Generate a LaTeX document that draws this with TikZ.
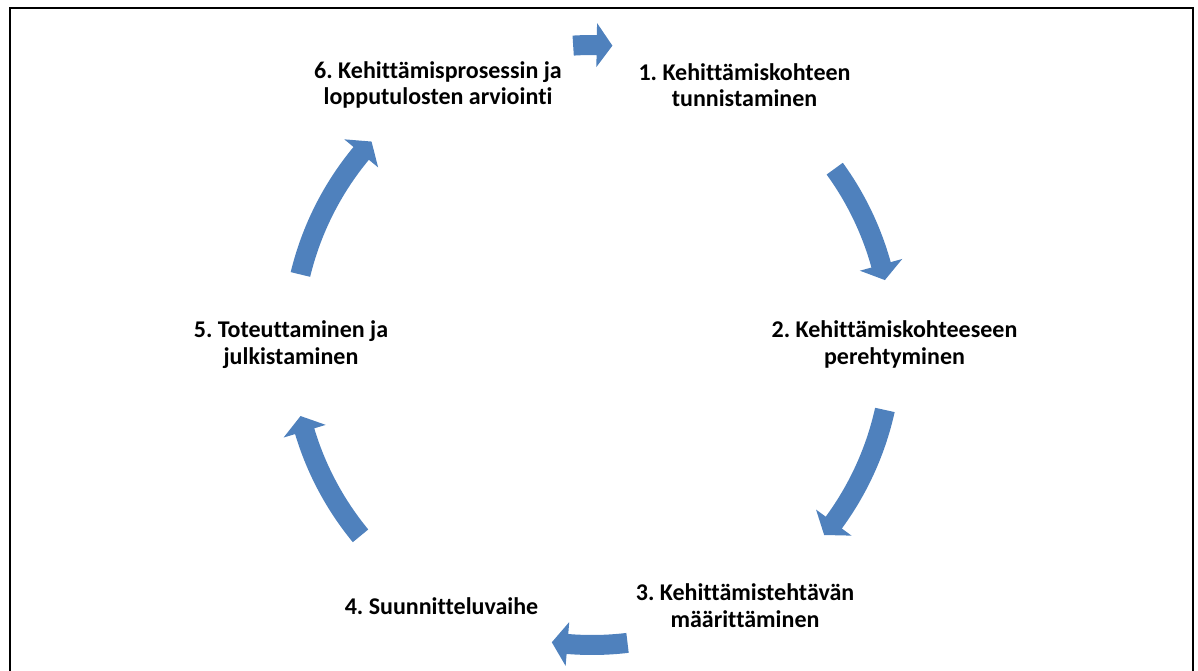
\documentclass[tikz,border=0pt]{standalone}
\usepackage{fontspec}
\setmainfont{Carlito}[Ligatures={NoCommon}]
\frenchspacing
\definecolor{arrowblue}{RGB}{79,129,189}
\tikzset{
  lbl/.style={align=center, font=\fontsize{24}{26.5}\selectfont\bfseries, inner sep=0pt},
  cyc/.style={fill=arrowblue, draw=none},
  framebox/.style={draw=black, line width=2pt}
}
\newcommand{\mycycarrow}[2]{%
  \pgfmathsetmacro{\hb}{#2+3}%
  \path[cyc] (#1:310pt) arc[start angle=#1, end angle=\hb, radius=310pt]
    -- (\hb:322pt) -- (#2:300pt) -- (\hb:278pt) -- (\hb:290pt)
    arc[start angle=\hb, end angle=#1, radius=290pt] -- cycle;%
}
\begin{document}
\begin{tikzpicture}[x=1pt,y=1pt]
\useasboundingbox (0,0) rectangle (1198,670);
\draw[framebox] (10,-20) -- (10,661.5) -- (1193.3,661.5) -- (1193.3,-20);
\begin{scope}[shift={(592,325)}]
  \mycycarrow{36}{12.5}
  \mycycarrow{-12.5}{-39.3}
  \mycycarrow{-83.2}{-97.7}
  \mycycarrow{-140.5}{-166.3}
  \mycycarrow{166.4}{137.3}
  \mycycarrow{93.6}{86.1}
\end{scope}
\node[lbl] (t1) at (744.5,585) {1. Kehittämiskohteen\\tunnistaminen};
\node[lbl] (t2) at (894.5,325.5) {2. Kehittämiskohteeseen\\perehtyminen};
\node[lbl] (t3) at (745,64.5) {3. Kehittämistehtävän\\määrittäminen};
\node[lbl] (t4) at (441.5,64) {4. Suunnitteluvaihe};
\node[lbl] (t5) at (291,325.5) {5. Toteuttaminen ja\\julkistaminen};
\node[lbl] (t6) at (438,585) {6. Kehittämisprosessin ja\\lopputulosten arviointi};
\end{tikzpicture}
\end{document}
